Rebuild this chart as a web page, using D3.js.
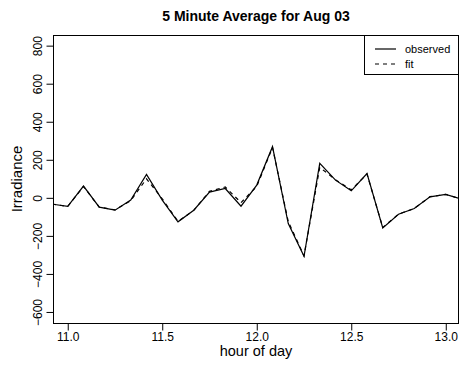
<!DOCTYPE html>
<html>
<head>
<meta charset="utf-8">
<script src="https://cdn.jsdelivr.net/npm/d3@7"></script>
<style>
  body { margin: 0; background: #fff; }
  svg { font-family: "Liberation Sans", Arial, sans-serif; }
</style>
</head>
<body>
<div id="chart"></div>
<script>
// 5 minute steps, hour of day
const hours = [10.9167, 11.0, 11.0833, 11.1667, 11.25, 11.3333, 11.4167, 11.5, 11.5833,
    11.6667, 11.75, 11.8333, 11.9167, 12.0, 12.0833, 12.1667, 12.25, 12.3333, 12.4167,
    12.5, 12.5833, 12.6667, 12.75, 12.8333, 12.9167, 13.0, 13.0833];
const observed = [-33, -45, 62, -49, -65, -12, 123, -12, -126,
    -65, 30, 49, -44, 67, 269, -135, -307, 181, 93,
    37, 128, -158, -86, -56, 5, 18, -7];
const fit = [-33, -45, 60, -49, -63, -15, 100, -5, -124,
    -66, 34, 57, -25, 60, 265, -125, -305, 160, 95,
    42, 125, -156, -86, -56, 6, 18, -7];
const xTicks = [11.0, 11.5, 12.0, 12.5, 13.0];
const yTicks = [-600, -400, -200, 0, 200, 400, 600, 800];

const width = 460;
const height = 365;
const margin = { top: 35, right: 1, bottom: 42, left: 53 };

const svg = d3
    .select("#chart")
    .append("svg")
    .attr("width", width)
    .attr("height", height);

const x = d3
    .scaleLinear()
    .domain([10.922, 13.07])
    .range([margin.left, width - margin.right]);

const y = d3
    .scaleLinear()
    .domain([-658, 856])
    .range([height - margin.bottom, margin.top]);

// clip lines to the plot box
svg.append("clipPath")
    .attr("id", "clip")
    .append("rect")
    .attr("x", margin.left)
    .attr("y", margin.top)
    .attr("width", width - margin.left - margin.right)
    .attr("height", height - margin.top - margin.bottom);

const line = (vals) =>
    d3.line()
        .x((d, i) => x(hours[i]))
        .y((d) => y(d))(vals);

svg.append("path")
    .attr("d", line(observed))
    .attr("clip-path", "url(#clip)")
    .attr("fill", "none")
    .attr("stroke", "#000")
    .attr("stroke-width", 1.2);

svg.append("path")
    .attr("d", line(fit))
    .attr("clip-path", "url(#clip)")
    .attr("fill", "none")
    .attr("stroke", "#000")
    .attr("stroke-width", 1.2)
    .attr("stroke-dasharray", "4,4");

// box
svg.append("rect")
    .attr("x", margin.left + 0.5)
    .attr("y", margin.top + 0.5)
    .attr("width", width - margin.left - margin.right - 1)
    .attr("height", height - margin.top - margin.bottom)
    .attr("fill", "none")
    .attr("stroke", "#000");

// axes
const xAxis = svg.append("g")
    .attr("transform", `translate(0, ${height - margin.bottom + 0.5})`)
    .call(d3.axisBottom(x).tickValues(xTicks).tickFormat(d3.format(".1f")).tickSize(7).tickPadding(2));
xAxis.select(".domain").remove();
xAxis.selectAll("text").attr("font-size", 12).attr("fill", "#000").attr("font-family", "Liberation Sans, Arial, sans-serif");

const yAxis = svg.append("g")
    .attr("transform", `translate(${margin.left + 0.5}, 0)`)
    .call(d3.axisLeft(y).tickValues(yTicks).tickFormat((d) => d < 0 ? "\u2212" + Math.abs(d) : d).tickSize(7));
yAxis.select(".domain").remove();
yAxis.selectAll("text")
    .attr("font-size", 12)
    .attr("fill", "#000")
    .attr("font-family", "Liberation Sans, Arial, sans-serif")
    .attr("text-anchor", "middle")
    .attr("x", 0)
    .attr("dy", 0)
    .attr("transform", (d) => `translate(-12, 0) rotate(-90)`);

// title and labels
svg.append("text")
    .attr("x", (margin.left + width - margin.right) / 2)
    .attr("y", 21)
    .attr("text-anchor", "middle")
    .attr("font-size", 14)
    .attr("font-weight", "bold")
    .text("5 Minute Average for Aug 03");

svg.append("text")
    .attr("x", (margin.left + width - margin.right) / 2)
    .attr("y", 356)
    .attr("text-anchor", "middle")
    .attr("font-size", 14.5)
    .text("hour of day");

svg.append("text")
    .attr("transform", `translate(22, ${(margin.top + height - margin.bottom) / 2}) rotate(-90)`)
    .attr("text-anchor", "middle")
    .attr("font-size", 15)
    .text("Irradiance");

// legend
const legend = svg.append("g");
legend.append("rect")
    .attr("x", 364.5)
    .attr("y", margin.top + 0.5)
    .attr("width", 94)
    .attr("height", 39)
    .attr("fill", "#fff")
    .attr("stroke", "#000");
const legendItems = [["observed", null], ["fit", "4,4"]];
legendItems.forEach(([label, dash], i) => {
    const ly = 49 + i * 15;
    legend.append("line")
        .attr("x1", 375).attr("x2", 396)
        .attr("y1", ly).attr("y2", ly)
        .attr("stroke", "#000")
        .attr("stroke-width", 1.2)
        .attr("stroke-dasharray", dash);
    legend.append("text")
        .attr("x", 405)
        .attr("y", ly + 4)
        .attr("font-size", 11)
        .text(label);
});
</script>
</body>
</html>
